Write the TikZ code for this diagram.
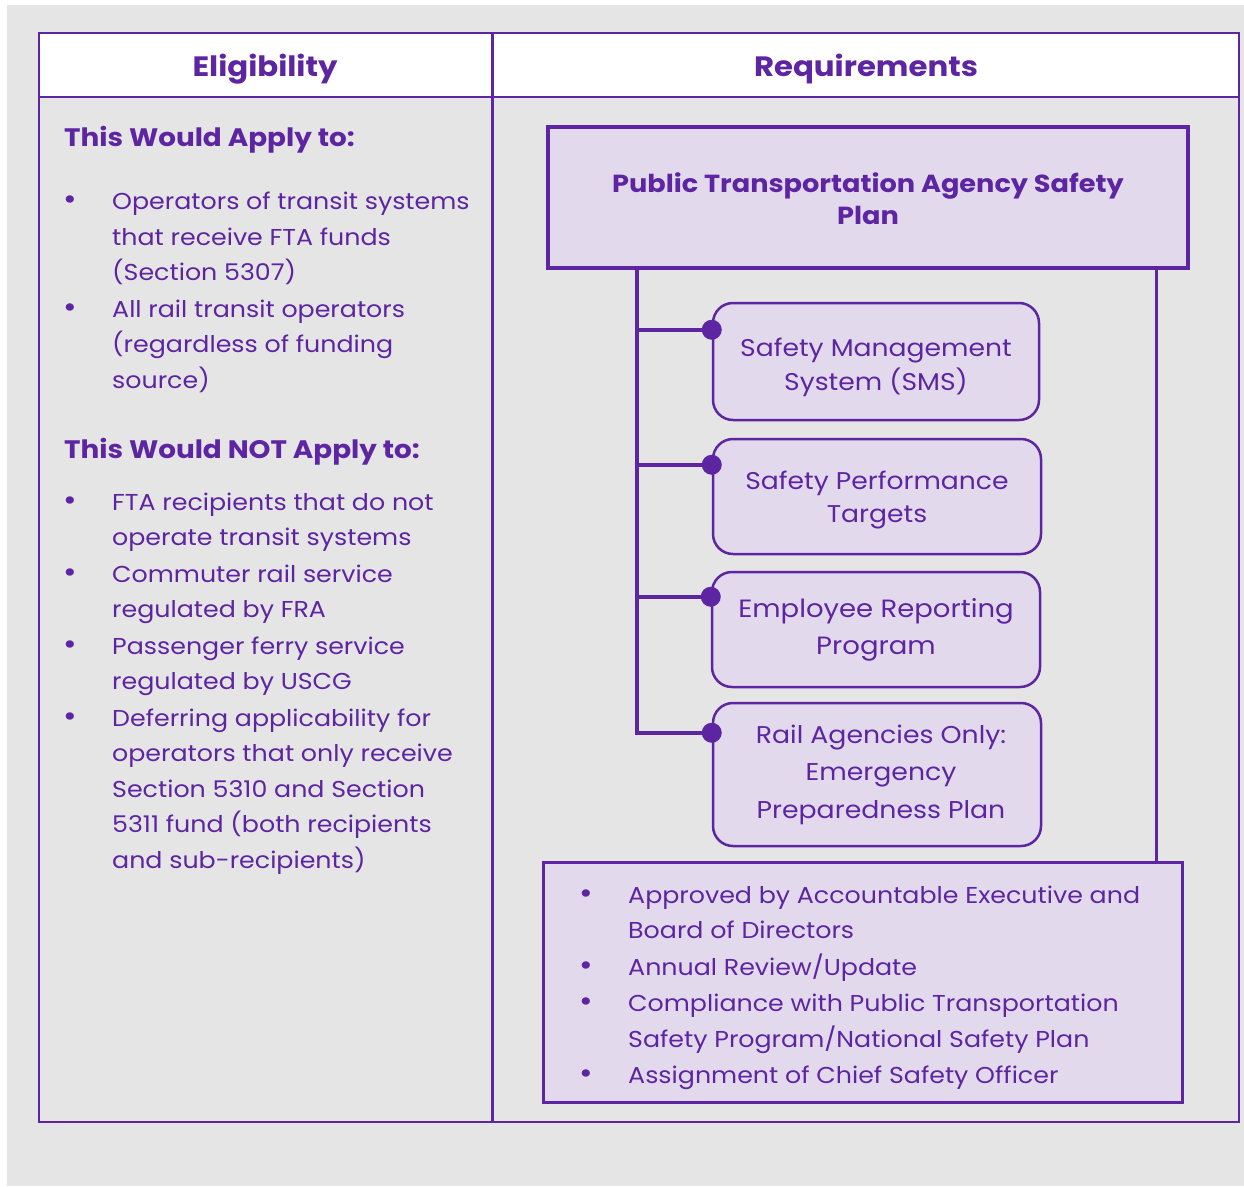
\documentclass[tikz,border=0pt]{standalone}
\usepackage{fontspec}
\setmainfont{Poppins}[FakeStretch=1.1]
\usetikzlibrary{calc}
\definecolor{pur}{HTML}{5E25A2}
\definecolor{lav}{HTML}{E2DAEC}
\definecolor{bgc}{HTML}{E5E5E5}
\begin{document}
\begin{tikzpicture}[x=1pt,y=-1pt,
  txt/.style={anchor=base west, inner sep=0pt, text=pur, font=\fontsize{23}{26}\selectfont},
  head/.style={anchor=base west, inner sep=0pt, text=pur, font=\fontsize{25.3}{28}\selectfont\bfseries},
  colhead/.style={anchor=base, inner sep=0pt, text=pur, font=\fontsize{28}{30}\selectfont\bfseries},
  bul/.style={anchor=base, inner sep=0pt, text=pur, font=\fontsize{30}{30}\selectfont},
  subbox/.style={draw=pur, fill=lav, line width=2.5pt, rounded corners=20pt, align=center,
     text=pur, inner sep=0pt, font=\fontsize{24.2}{33.5}\selectfont},
  conn/.style={draw=pur, line width=4pt},
  dot/.style={circle, fill=pur, inner sep=0pt, minimum size=20pt}]
\useasboundingbox (0,0) rectangle (1244,1186);
\fill[white] (0,0) rectangle (1244,1186);
\fill[bgc] (7,5) rectangle (1244,1186);
% table
\fill[white] (39,33) rectangle (1239,97);
\draw[pur, line width=2.5pt] (39,33) rectangle (1239,1122);
\draw[pur, line width=2.5pt] (39,97) -- (1239,97);
\draw[pur, line width=3pt] (492,33) -- (492,1122);
\node[colhead] (h1) at (265,76) {Eligibility};
\node[colhead] (h2) at (866,76) {Requirements};
% left column
\node[head] (a0) at (64,146) {This Would Apply to:};
\foreach \y/\t [count=\i] in {209/Operators of transit systems, 245/that receive FTA funds, 280/(Section 5307),
  317/All rail transit operators, 352/(regardless of funding, 388/source),
  510/FTA recipients that do not, 545/operate transit systems,
  582/Commuter rail service, 617/regulated by FRA,
  654/Passenger ferry service, 689/regulated by USCG,
  726/Deferring applicability for, 761/operators that only receive,
  797/Section 5310 and Section, 832/5311 fund (both recipients, 868/and sub-recipients)}
  \node[txt] (l\i) at (112,\y) {\t};
\node[head] (a1) at (64,458) {This Would NOT Apply to:};
\foreach \y [count=\i] in {209,317,510,582,654,726}
  \node[bul] (b\i) at (70,\y) {•};
% right column
\node[draw=pur, fill=lav, line width=4pt, minimum width=640pt, minimum height=141pt, inner sep=0pt,
  align=center, text=pur, font=\fontsize{24.7}{32}\selectfont\bfseries] (ptasp) at (868,197.5)
  {\rule{0pt}{22pt}Public Transportation Agency Safety\\Plan};
\node[subbox, minimum width=326pt, minimum height=117pt] (sms) at (876,361.5) {\rule{0pt}{30pt}Safety Management\\System (SMS)};
\node[subbox, minimum width=328pt, minimum height=115pt] (spt) at (877,496.5) {\rule{0pt}{26pt}Safety Performance\\Targets};
\node[subbox, minimum width=328pt, minimum height=115pt, font=\fontsize{25}{37}\selectfont] (erp) at (876,629.5) {Employee Reporting\\Program};
\node[subbox, minimum width=328pt, minimum height=143pt, font=\fontsize{24.3}{37.5}\selectfont] (rail) at (877,774.5) {\hspace*{8pt}Rail Agencies Only:\\\hspace*{8pt}Emergency\\\hspace*{8pt}Preparedness Plan};
\node[draw=pur, fill=lav, line width=3pt, minimum width=639pt, minimum height=240pt, inner sep=0pt] (bot) at (862.5,982) {};
% connectors
\coordinate (tl) at (637,268);
\coordinate (tr) at (1156,268);
\node[dot] (d1) at ($(sms.north west)+(0,28)$) {};
\node[dot] (d2) at ($(spt.north west)+(0,27)$) {};
\node[dot] (d3) at ($(erp.north west)+(0,26)$) {};
\node[dot] (d4) at ($(rail.north west)+(0,31)$) {};
\draw[conn] (tl) |- (d4.center);
\draw[conn] (tl |- d1) -- (d1.center);
\draw[conn] (tl |- d2) -- (d2.center);
\draw[conn] (tl |- d3) -- (d3.center);
\draw[pur, line width=3pt] (tr) -- (tr |- bot.north);
% bottom list
\foreach \y/\t [count=\i] in {903/{Approved by Accountable Executive and}, 938/{Board of Directors}, 975/{Annual Review/Update},
  1011/{Compliance with Public Transportation}, 1047/{Safety Program/National Safety Plan}, 1083/{Assignment of Chief Safety Officer}}
  \node[txt] (r\i) at (628,\y) {\t};
\foreach \y [count=\i] in {903,975,1011,1083}
  \node[bul] (c\i) at (586,\y) {•};
\end{tikzpicture}
\end{document}
